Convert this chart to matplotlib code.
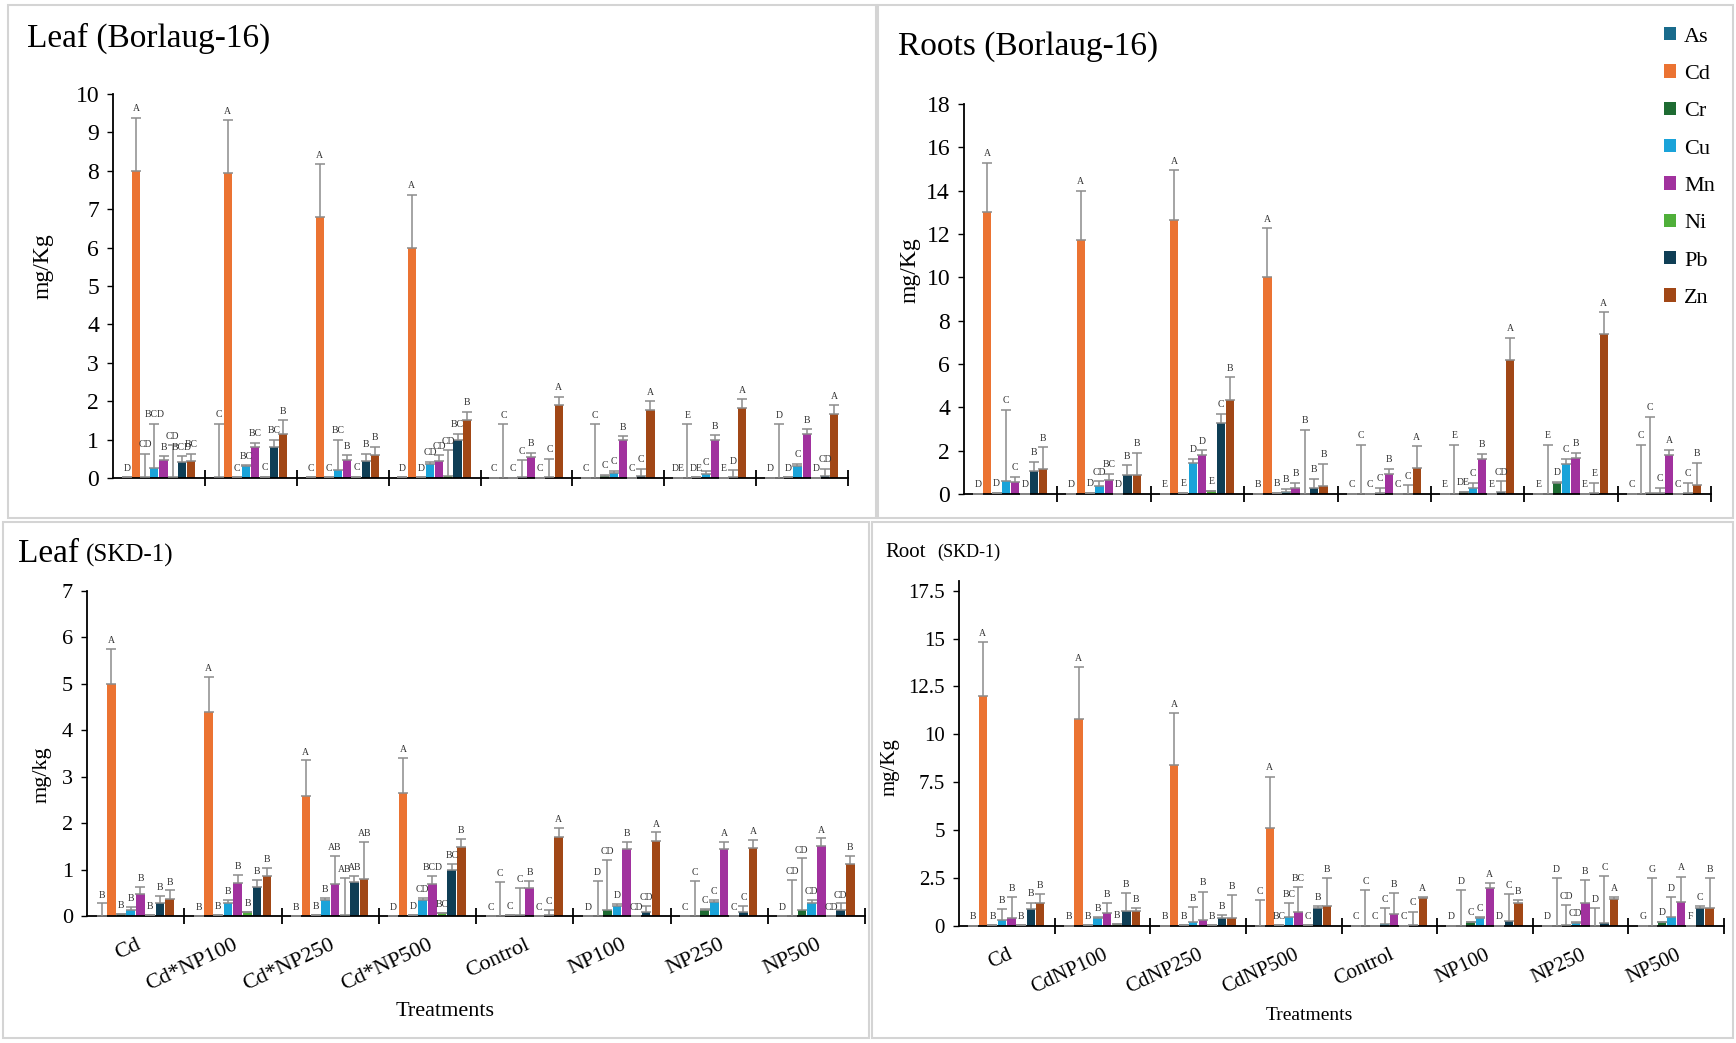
"""
plot.py

Heavy metal content (mg/Kg) in leaf and root of two wheat varieties
under Cd / nanoparticle treatments. Four grouped bar panels with
error bars and letter labels, saved to out.png.
"""

import numpy as np
import matplotlib
matplotlib.use("Agg")
import matplotlib.pyplot as plt
from matplotlib.patches import Rectangle, Patch
from matplotlib.ticker import FuncFormatter

plt.rcParams['font.family'] = ['Liberation Serif', 'DejaVu Serif']

W, H = 1736, 1043

elements = ["As", "Cd", "Cr", "Cu", "Mn", "Ni", "Pb", "Zn"]
colors = ["#196B8C", "#EB7332", "#1E6B32", "#1AA3D9",
          "#A1329E", "#4FAF3A", "#0F3E55", "#A14716"]

treat_leaf = ["Cd", "Cd*NP100", "Cd*NP250", "Cd*NP500",
              "Control", "NP100", "NP250", "NP500"]
treat_root = ["Cd", "CdNP100", "CdNP250", "CdNP500",
              "Control", "NP100", "NP250", "NP500"]

# ---- Leaf (Borlaug-16) ----
lb_val = {
    "As": [0.02, 0.02, 0.02, 0.02, 0.01, 0.01, 0.01, 0.01],
    "Cd": [8.0, 7.94, 6.79, 6.0, 0.01, 0.01, 0.01, 0.01],
    "Cr": [0.03, 0.02, 0.02, 0.02, 0.01, 0.06, 0.02, 0.02],
    "Cu": [0.26, 0.30, 0.20, 0.37, 0.02, 0.13, 0.10, 0.31],
    "Mn": [0.46, 0.81, 0.46, 0.43, 0.55, 0.98, 1.0, 1.15],
    "Ni": [0.02, 0.03, 0.03, 0.05, 0.01, 0.01, 0.01, 0.01],
    "Pb": [0.42, 0.82, 0.43, 1.0, 0.03, 0.05, 0.03, 0.05],
    "Zn": [0.43, 1.15, 0.59, 1.5, 1.89, 1.78, 1.83, 1.66],
}
lb_err = {
    "As": [0, 1.39, 0, 0, 0, 0, 0, 0],
    "Cd": [1.38, 1.37, 1.38, 1.38, 1.39, 1.39, 1.39, 1.39],
    "Cr": [0.6, 0, 0, 0, 0, 0.03, 0, 0],
    "Cu": [1.15, 0.03, 0.8, 0.05, 0.44, 0.05, 0.07, 0.06],
    "Mn": [0.1, 0.1, 0.13, 0.16, 0.11, 0.11, 0.11, 0.12],
    "Ni": [0.83, 0, 0, 0.67, 0, 0, 0, 0],
    "Pb": [0.14, 0.18, 0.2, 0.15, 0.47, 0.19, 0.17, 0.19],
    "Zn": [0.2, 0.35, 0.22, 0.22, 0.22, 0.22, 0.22, 0.23],
}
lb_lbl = {
    "As": ["D", "C", "C", "D", "C", "C", "DE", "D"],
    "Cd": ["A", "A", "A", "A", "C", "C", "E", "D"],
    "Cr": ["CD", "C", "C", "D", "C", "C", "DE", "D"],
    "Cu": ["BCD", "BC", "BC", "CD", "C", "C", "C", "C"],
    "Mn": ["B", "BC", "B", "CD", "B", "B", "B", "B"],
    "Ni": ["CD", "C", "C", "CD", "C", "C", "E", "D"],
    "Pb": ["BCD", "BC", "B", "BC", "C", "C", "D", "CD"],
    "Zn": ["BC", "B", "B", "B", "A", "A", "A", "A"],
}

# ---- Roots (Borlaug-16) ----
rb_val = {
    "As": [0.02, 0.02, 0.02, 0.02, 0.02, 0.02, 0.02, 0.02],
    "Cd": [13.0, 11.74, 12.66, 10.0, 0.02, 0.02, 0.02, 0.02],
    "Cr": [0.05, 0.05, 0.05, 0.05, 0.02, 0.1, 0.51, 0.05],
    "Cu": [0.58, 0.35, 1.43, 0.1, 0.05, 0.28, 1.4, 0.05],
    "Mn": [0.55, 0.66, 1.78, 0.28, 0.94, 1.63, 1.66, 1.82],
    "Ni": [0.02, 0.02, 0.15, 0.02, 0.02, 0.02, 0.02, 0.02],
    "Pb": [1.08, 0.89, 3.28, 0.28, 0.02, 0.1, 0.05, 0.05],
    "Zn": [1.15, 0.89, 4.35, 0.35, 1.2, 6.2, 7.38, 0.4],
}
rb_err = {
    "As": [0, 0, 0, 0, 0, 0, 0, 0],
    "Cd": [2.28, 2.26, 2.28, 2.26, 2.26, 2.26, 2.26, 2.26],
    "Cr": [0, 0, 0, 0, 0, 0, 0.05, 3.5],
    "Cu": [3.3, 0.23, 0.2, 0.15, 0.23, 0.22, 0.22, 0.23],
    "Mn": [0.23, 0.26, 0.24, 0.22, 0.23, 0.23, 0.23, 0.23],
    "Ni": [0, 0, 0, 2.95, 0, 0, 0, 0],
    "Pb": [0.4, 0.43, 0.41, 0.42, 0.38, 0.48, 0.46, 0.45],
    "Zn": [1.0, 1.0, 1.03, 1.05, 1.0, 1.0, 1.0, 1.03],
}
rb_lbl = {
    "As": ["D", "D", "E", "B", "C", "E", "E", "C"],
    "Cd": ["A", "A", "A", "A", "C", "E", "E", "C"],
    "Cr": ["D", "D", "E", "B", "C", "DE", "D", "C"],
    "Cu": ["C", "CD", "D", "B", "C", "C", "C", "C"],
    "Mn": ["C", "BC", "D", "B", "B", "B", "B", "A"],
    "Ni": ["D", "D", "E", "B", "C", "E", "E", "C"],
    "Pb": ["B", "B", "C", "B", "C", "CD", "E", "C"],
    "Zn": ["B", "B", "B", "B", "A", "A", "A", "B"],
}

# ---- Leaf (SKD-1) ----
ls_val = {
    "As": [0.01, 0.01, 0.01, 0.01, 0.01, 0.01, 0.01, 0.01],
    "Cd": [4.99, 4.39, 2.59, 2.66, 0.01, 0.01, 0.01, 0.01],
    "Cr": [0.04, 0.02, 0.02, 0.02, 0.02, 0.13, 0.13, 0.13],
    "Cu": [0.14, 0.29, 0.34, 0.34, 0.02, 0.22, 0.31, 0.29],
    "Mn": [0.47, 0.72, 0.7, 0.7, 0.6, 1.44, 1.44, 1.51],
    "Ni": [0.03, 0.08, 0.03, 0.06, 0.01, 0.01, 0.01, 0.01],
    "Pb": [0.29, 0.63, 0.73, 0.99, 0.02, 0.09, 0.09, 0.13],
    "Zn": [0.36, 0.86, 0.79, 1.49, 1.71, 1.62, 1.46, 1.12],
}
ls_err = {
    "As": [0.26, 0, 0, 0, 0, 0, 0, 0],
    "Cd": [0.77, 0.76, 0.76, 0.75, 0.73, 0.74, 0.74, 0.77],
    "Cr": [0, 0, 0, 0, 0, 1.07, 0.03, 1.11],
    "Cu": [0.05, 0.05, 0.05, 0.05, 0.58, 0.03, 0.03, 0.05],
    "Mn": [0.16, 0.16, 0.6, 0.16, 0.16, 0.16, 0.16, 0.16],
    "Ni": [0, 0, 0.78, 0, 0, 0, 0, 0],
    "Pb": [0.14, 0.15, 0.13, 0.13, 0.12, 0.13, 0.13, 0.14],
    "Zn": [0.19, 0.18, 0.8, 0.17, 0.18, 0.18, 0.18, 0.17],
}
ls_lbl = {
    "As": ["B", "B", "B", "D", "C", "D", "C", "D"],
    "Cd": ["A", "A", "A", "A", "C", "D", "C", "CD"],
    "Cr": ["B", "B", "B", "D", "C", "CD", "C", "CD"],
    "Cu": ["B", "B", "B", "CD", "C", "D", "C", "CD"],
    "Mn": ["B", "B", "AB", "BCD", "B", "B", "A", "A"],
    "Ni": ["B", "B", "AB", "BC", "C", "CD", "C", "CD"],
    "Pb": ["B", "B", "AB", "BC", "C", "CD", "C", "CD"],
    "Zn": ["B", "B", "AB", "B", "A", "A", "A", "B"],
}

# ---- Root (SKD-1) ----
rs_val = {
    "As": [0.02, 0.02, 0.02, 0.02, 0.02, 0.02, 0.02, 0.02],
    "Cd": [12.01, 10.81, 8.41, 5.1, 0.02, 0.02, 0.02, 0.02],
    "Cr": [0.05, 0.05, 0.05, 0.05, 0.02, 0.23, 0.05, 0.23],
    "Cu": [0.31, 0.4, 0.23, 0.49, 0.08, 0.4, 0.17, 0.49],
    "Mn": [0.44, 0.7, 0.31, 0.75, 0.63, 2.0, 1.22, 1.27],
    "Ni": [0.05, 0.1, 0.03, 0.03, 0.02, 0.02, 0.02, 0.02],
    "Pb": [0.87, 0.78, 0.4, 0.92, 0.05, 0.26, 0.17, 0.96],
    "Zn": [1.18, 0.78, 0.4, 1.04, 1.45, 1.22, 1.39, 0.96],
}
rs_err = {
    "As": [0, 0, 0, 1.35, 0, 0, 0, 0],
    "Cd": [2.8, 2.7, 2.7, 2.7, 1.86, 1.86, 2.5, 2.5],
    "Cr": [0, 0, 0, 0, 0, 0, 1.05, 0],
    "Cu": [0.56, 0.05, 0.77, 0.7, 0.84, 0.05, 0.05, 1.04],
    "Mn": [1.09, 0.5, 1.49, 1.3, 1.11, 0.23, 1.18, 1.31],
    "Ni": [0, 0, 0, 0, 0, 0, 0.9, 0],
    "Pb": [0.35, 0.96, 0.17, 0.12, 0.7, 1.4, 2.43, 0.1],
    "Zn": [0.5, 0.14, 1.22, 1.45, 0.08, 0.14, 0.14, 1.53],
}
rs_lbl = {
    "As": ["B", "B", "B", "C", "C", "D", "D", "G"],
    "Cd": ["A", "A", "A", "A", "C", "D", "D", "G"],
    "Cr": ["B", "B", "B", "BC", "C", "C", "CD", "D"],
    "Cu": ["B", "B", "B", "BC", "C", "C", "CD", "D"],
    "Mn": ["B", "B", "B", "BC", "B", "A", "B", "A"],
    "Ni": ["B", "B", "B", "C", "C", "D", "D", "F"],
    "Pb": ["B", "B", "B", "B", "C", "C", "C", "C"],
    "Zn": ["B", "B", "B", "B", "A", "B", "A", "B"],
}


def px_axes(fig, left, right, top, bottom):
    """Axes placed by pixel edges of the 1736x1043 canvas."""
    return fig.add_axes([left / W, 1 - bottom / H, (right - left) / W, (bottom - top) / H])


def draw_panel(ax, vals, errs, lbls, ymax, yticks, xlabels=None,
               tick_fs=16, lbl_fs=7):
    n = len(treat_leaf)
    x = np.arange(n)
    for i, el in enumerate(elements):
        pos = x + (i - 3.5) * 0.1
        v = np.array(vals[el])
        e = np.array(errs[el])
        ax.bar(pos, v, width=0.088, color=colors[i], label=el, zorder=2)
        ax.errorbar(pos, v, yerr=[np.zeros(n), e], fmt='none', ecolor='#8c8c8c',
                    elinewidth=1.1, capsize=3.5, capthick=1.1, zorder=3)
        for p, top, t in zip(pos, v + e, lbls[el]):
            ax.text(p, top + ymax * 0.012, t, ha='center', va='bottom',
                    fontsize=lbl_fs, color='#333333', zorder=4)

    ax.set_xlim(-0.5, n - 0.5)
    ax.set_ylim(0, ymax)
    ax.set_yticks(yticks)
    ax.yaxis.set_major_formatter(FuncFormatter(lambda v, p: f"{v:g}"))
    for s in ["top", "right"]:
        ax.spines[s].set_visible(False)
    for s in ["left", "bottom"]:
        ax.spines[s].set_color('black')
        ax.spines[s].set_linewidth(1.3)
    ax.tick_params(axis='y', labelsize=tick_fs, length=4, width=1, pad=6)

    ax.set_xticks(np.arange(0.5, n, 1.0), minor=True)
    ax.tick_params(axis='x', which='minor', direction='inout', length=12, width=1.3)
    if xlabels is None:
        ax.set_xticks([])
    else:
        ax.set_xticks(x)
        ax.set_xticklabels(xlabels, rotation=25, ha='right',
                           rotation_mode='anchor', fontsize=tick_fs)
        ax.tick_params(axis='x', which='major', length=0, pad=14)
    ax.set_facecolor('white')


fig = plt.figure(figsize=(W / 100, H / 100), dpi=100)

# panel frames
for (l, t, r, b) in [(8, 5, 876, 518), (878, 5, 1733, 518),
                     (3, 522, 869, 1038), (872, 522, 1733, 1038)]:
    fig.patches.append(Rectangle((l / W, 1 - b / H), (r - l) / W, (b - t) / H,
                                 transform=fig.transFigure, fill=False,
                                 edgecolor='#d4d4d4', linewidth=1.5))

ax1 = px_axes(fig, 113, 848, 94, 478)
draw_panel(ax1, lb_val, lb_err, lb_lbl, 10, range(0, 11, 1), tick_fs=17)

ax2 = px_axes(fig, 964, 1711, 104, 494)
draw_panel(ax2, rb_val, rb_err, rb_lbl, 18, range(0, 19, 2), tick_fs=17)

ax3 = px_axes(fig, 87, 865, 591, 916)
draw_panel(ax3, ls_val, ls_err, ls_lbl, 7, range(0, 8, 1), xlabels=treat_leaf,
           tick_fs=16)

ax4 = px_axes(fig, 959, 1724, 581, 926)
draw_panel(ax4, rs_val, rs_err, rs_lbl, 18, np.arange(0, 17.6, 2.5),
           xlabels=treat_root, tick_fs=15)


def ftext(x, y, s, **kw):
    fig.text(x / W, 1 - y / H, s, **kw)


# titles
ftext(27, 47, "Leaf (Borlaug-16)", fontsize=24, va='baseline')
ftext(898, 55, "Roots (Borlaug-16)", fontsize=24, va='baseline')
ftext(18, 562, "Leaf", fontsize=24, va='baseline')
ftext(86, 562, "(SKD-1)", fontsize=18, va='baseline')
ftext(885, 557, "Root", fontsize=15, va='baseline')
ftext(937, 557, "(SKD-1)", fontsize=13, va='baseline')

# axis labels
ftext(43, 266, "mg/Kg", fontsize=17, rotation=90, ha='center', va='center')
ftext(910, 270, "mg/Kg", fontsize=17, rotation=90, ha='center', va='center')
ftext(42, 775, "mg/kg", fontsize=16, rotation=90, ha='center', va='center')
ftext(890, 767, "mg/Kg", fontsize=15, rotation=90, ha='center', va='center')
ftext(445, 1011, "Treatments", fontsize=16, ha='center', va='center')
ftext(1309, 1016, "Treatments", fontsize=14, ha='center', va='center')

# legend
handles = [Patch(facecolor=c, edgecolor='none', label=el) for el, c in zip(elements, colors)]
fig.legend(handles=handles, loc='upper left', bbox_to_anchor=(1664 / W, 1 - 27 / H),
           frameon=False, fontsize=16, handlelength=0.55, handleheight=0.55,
           handletextpad=0.35, labelspacing=0.8, borderaxespad=0, borderpad=0)

fig.savefig("out.png", dpi=100, facecolor='white')
